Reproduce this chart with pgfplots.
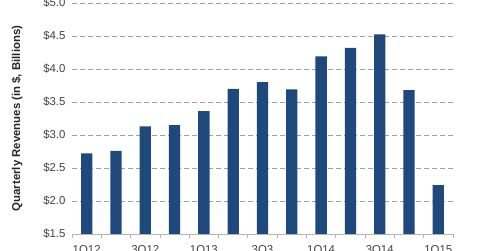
\documentclass[border=0pt]{standalone}
\usepackage{pgfplots}
\pgfplotsset{compat=1.18}
\usepackage{fontspec}
\setmainfont{Liberation Sans}
\definecolor{barblue}{RGB}{31,73,125}
\definecolor{tickgray}{RGB}{64,64,64}
\definecolor{gridgray}{RGB}{160,160,160}
\definecolor{axisgray}{RGB}{180,180,180}
\begin{document}
\begin{tikzpicture}
\path[use as bounding box, clip] (-72pt,-17pt) rectangle (408pt,234pt);
\begin{axis}[
  at={(0,0)}, anchor=south west,
  scale only axis, width=381pt, height=231pt,
  xmin=-0.5, xmax=12.5, ymin=1.5, ymax=5,
  ytick={1.5,2.0,2.5,3.0,3.5,4.0,4.5,5.0},
  yticklabels={\$1.5,\$2.0,\$2.5,\$3.0,\$3.5,\$4.0,\$4.5,\$5.0},
  xtick={0,2,...,12},
  xticklabels={1Q12,3Q12,1Q13,3Q3,1Q14,3Q14,1Q15},
  minor xtick={-0.5,0.5,...,12.5},
  major tick length=0pt, minor tick length=4pt,
  tick align=outside,
  tick style={axisgray, line width=0.8pt},
  axis x line*=bottom, axis y line*=left,
  x axis line style={axisgray, line width=0.8pt, -},
  y axis line style={draw=none},
  ymajorgrids, major grid style={gridgray, dashed, dash pattern=on 5pt off 3pt, line width=0.6pt},
  ticklabel style={font=\fontsize{11.4}{13}\selectfont, text=tickgray},
  yticklabel style={anchor=east, xshift=-3pt},
  xticklabel style={anchor=north, yshift=-8pt},
  ylabel={Quarterly Revenues (in \$, Billions)},
  every axis y label/.style={at={(axis description cs:-0.144,0.5)}, rotate=90, anchor=center, font=\fontsize{11.4}{13}\selectfont\bfseries, text=black!85},
  clip=false,
]
\addplot[ybar, bar width=11.3pt, fill=barblue, draw=none] coordinates {
(0,2.72) (1,2.76) (2,3.13) (3,3.15) (4,3.36) (5,3.70) (6,3.80) (7,3.69) (8,4.19) (9,4.32) (10,4.525) (11,3.68) (12,2.24)
};
\end{axis}
\end{tikzpicture}
\end{document}
